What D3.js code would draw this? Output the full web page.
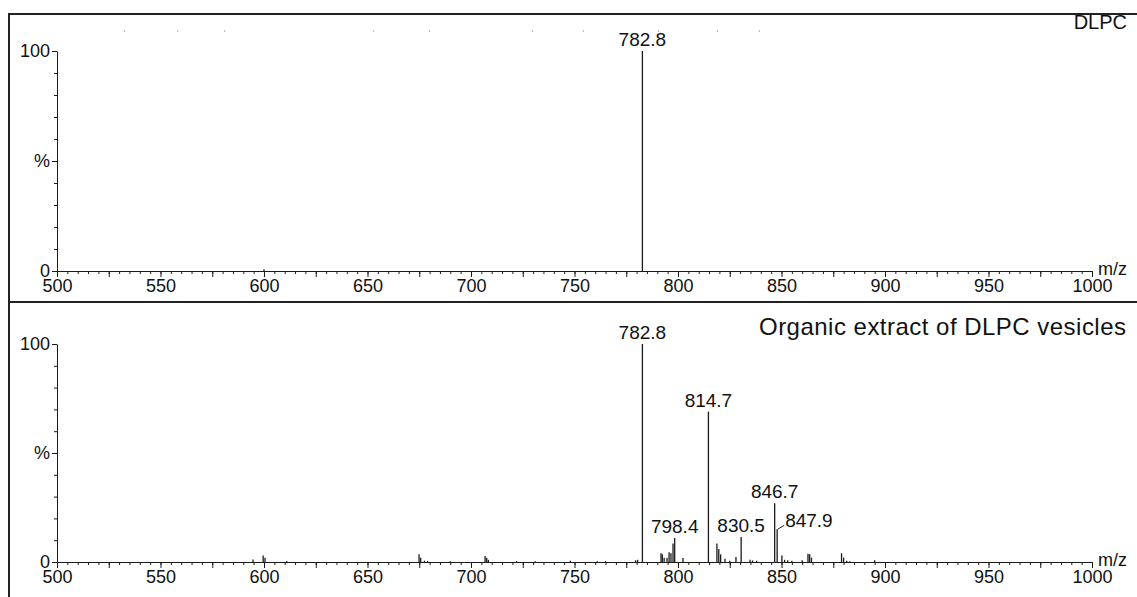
<!DOCTYPE html>
<html>
<head>
<meta charset="utf-8">
<script src="https://cdn.jsdelivr.net/npm/d3@7"></script>
<style>
  body { margin: 0; background: #fff; }
  svg text { font-family: "Liberation Sans", Arial, sans-serif; fill: #111; }
</style>
</head>
<body>
<svg width="1137" height="597"></svg>
<script>
// m/z range and ticks
var xDomain = [500, 1000];
var minorTicks = d3.range(500, 1001, 5);
var majorTicks = d3.range(500, 1001, 25);

// DLPC spectrum
var topMz = [600.0, 782.8];
var topInt = [0.8, 100];
var topLabels = ["782.8"];
// tiny grey specks along the top of the first panel
var specks = [532.4, 558.0, 580.7, 652.7, 679.7, 729.5, 754.0, 790.3, 818.8, 839.0];

// organic extract spectrum
var botMz = [594.7, 599.6, 600.5, 611.0, 674.9, 675.7, 677.5, 679.0, 690.0, 706.8, 707.6, 708.4,
  722.0, 731.0, 748.0, 761.0, 765.0, 779.5, 780.5, 782.8, 791.8, 792.4, 793.3, 794.7, 795.7,
  796.6, 797.6, 798.4, 802.4, 814.7, 818.8, 819.7, 820.6, 822.7, 825.0, 828.0, 830.5, 834.8,
  836.0, 838.0, 846.7, 847.9, 850.2, 851.5, 853.0, 855.0, 860.0, 862.8, 863.6, 864.5, 879.0,
  880.0, 881.5, 883.0, 895.0];
var botInt = [1.2, 3.0, 2.0, 0.5, 3.5, 2.0, 0.6, 0.5, 0.4, 2.7, 2.0, 1.0,
  0.4, 0.4, 0.6, 0.4, 0.4, 0.8, 1.0, 100, 4.0, 3.5, 2.0, 2.0, 4.5,
  4.0, 8.5, 11.0, 1.8, 69, 8.5, 6.0, 3.5, 1.5, 0.6, 2.3, 11.5, 1.0,
  0.7, 0.6, 27, 15, 3.0, 1.0, 0.8, 0.6, 0.8, 3.8, 3.5, 2.0, 4.0,
  2.0, 0.6, 0.4, 0.8];
var botLabels = ["782.8", "798.4", "814.7", "830.5", "846.7", "847.9"];

var svg = d3.select("svg");
var ink = "#1a1a1a";

var x = d3.scaleLinear().domain(xDomain).range([57, 1092]);

// frame
svg.append("path")
  .attr("d", "M9,597V14H1137M9,302H1137")
  .attr("fill", "none")
  .attr("stroke", "#222")
  .attr("stroke-width", 2);

svg.selectAll("rect.speck")
  .data(specks)
  .enter()
  .append("rect")
  .attr("x", function (d) { return x(d); })
  .attr("y", 30.5)
  .attr("width", 1.2)
  .attr("height", 1.2)
  .attr("fill", "#999");

function drawPanel(mz, inten, labels, base, top) {
  var y = d3.scaleLinear().domain([0, 100]).range([base, top]);
  var g = svg.append("g");

  // x axis: small ticks every 5, longer every 25, labels every 50
  g.append("g")
    .attr("transform", "translate(0," + base + ")")
    .attr("color", ink)
    .call(d3.axisBottom(x).tickValues(minorTicks).tickSize(3).tickFormat(""))
    .call(function (s) { s.select(".domain").remove(); });

  g.append("g")
    .attr("transform", "translate(0," + base + ")")
    .attr("color", ink)
    .call(d3.axisBottom(x).tickValues(majorTicks).tickSize(6).tickSizeOuter(0).tickPadding(2)
      .tickFormat(function (d) { return d % 50 === 0 ? d : ""; }))
    .attr("font-size", 18)
    .attr("font-family", null);

  // y axis
  g.append("g")
    .attr("transform", "translate(57,0)")
    .attr("color", ink)
    .call(d3.axisLeft(y).tickValues(d3.range(0, 101, 10)).tickSize(3).tickFormat(""))
    .call(function (s) { s.select(".domain").remove(); });

  g.append("g")
    .attr("transform", "translate(57,0)")
    .attr("color", ink)
    .call(d3.axisLeft(y).tickValues([0, 50, 100]).tickSize(5).tickSizeOuter(0).tickPadding(2)
      .tickFormat(function (d) { return d === 50 ? "%" : d; }))
    .attr("font-size", 18)
    .attr("font-family", null);

  g.append("text")
    .attr("x", 1098)
    .attr("y", base + 4)
    .attr("font-size", 18)
    .text("m/z");

  // peaks
  var peaks = d3.zip(mz, inten);
  g.selectAll("line.peak")
    .data(peaks)
    .enter()
    .append("line")
    .attr("x1", function (d) { return x(d[0]); })
    .attr("x2", function (d) { return x(d[0]); })
    .attr("y1", y(0))
    .attr("y2", function (d) { return y(d[1]); })
    .attr("stroke", ink)
    .attr("stroke-width", 1.3);

  // peak labels
  labels.forEach(function (lab) {
    var v = +lab;
    var i = mz.indexOf(v);
    var px = x(v), py = y(inten[i]);
    if (lab === "847.9") {
      g.append("line")
        .attr("x1", px + 0.5).attr("y1", py)
        .attr("x2", px + 7).attr("y2", py - 4)
        .attr("stroke", ink).attr("stroke-width", 1);
      g.append("text")
        .attr("x", px + 8).attr("y", py - 2)
        .attr("font-size", 19)
        .text(lab);
    } else {
      g.append("text")
        .attr("x", px).attr("y", py - 5)
        .attr("text-anchor", "middle")
        .attr("font-size", 19)
        .text(lab);
    }
  });

  return g;
}

drawPanel(topMz, topInt, topLabels, 271, 51);
var bot = drawPanel(botMz, botInt, botLabels, 562, 344);

svg.append("text")
  .attr("x", 1127)
  .attr("y", 29)
  .attr("text-anchor", "end")
  .attr("font-size", 20)
  .text("DLPC");

bot.append("text")
  .attr("x", 759)
  .attr("y", 335)
  .attr("font-size", 24)
  .attr("textLength", 367)
  .attr("lengthAdjust", "spacing")
  .text("Organic extract of DLPC vesicles");
</script>
</body>
</html>
